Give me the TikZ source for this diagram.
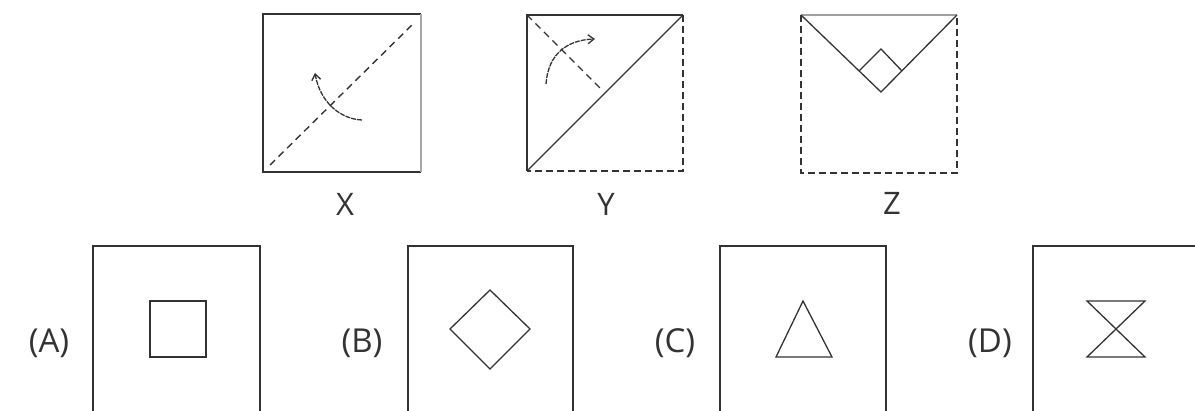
\documentclass[tikz,border=0pt]{standalone}
\usepackage{fontspec}
\setmainfont{Open Sans}
\usetikzlibrary{arrows.meta}
\definecolor{ink}{HTML}{333333}
\tikzset{
  edge/.style={draw=ink, line width=1.6pt},
  thin/.style={draw=ink, line width=1.3pt},
  dashedge/.style={draw=ink, line width=1.6pt, dash pattern=on 7pt off 4pt},
  fold/.style={draw=ink, line width=1.4pt, dash pattern=on 7pt off 5pt},
  curvearrow/.style={draw=ink, line width=1.3pt, dash pattern=on 5pt off 1pt, -{Straight Barb[length=6pt,width=9pt]}},
  letter/.style={font=\fontsize{31}{31}\selectfont, text=ink, inner sep=0pt},
  optlabel/.style={font=\fontsize{33}{33}\selectfont, text=ink, inner sep=0pt}
}
\begin{document}
\begin{tikzpicture}[x=1pt,y=-1pt]
\useasboundingbox (0,0) rectangle (1195,410);
\clip (0,0) rectangle (1195,410);
% ---------- X ----------
\draw[edge] (421,172) -- (263,172) -- (263,14) -- (421,14);
\draw[draw=gray!70, line width=1.6pt] (421,14) -- (421,172);
\coordinate (xa) at (270,165);
\coordinate (xb) at (415,22);
\draw[fold] (xa) -- (xb);
\coordinate (xs) at (362,120);
\coordinate (xe) at (315,73);
\draw[curvearrow] (xs) .. controls (340,119) and (320,102) .. (xe);
\node[letter] (lx) at (345,204) {X};
% ---------- Y ----------
\coordinate (ybl) at (527,171);
\coordinate (ytl) at (527,15);
\coordinate (ytr) at (683,15);
\coordinate (ybr) at (683,171);
\draw[edge] (ybl) -- (ytl) -- (ytr);
\draw[dashedge] (ytr) -- (ybr) -- (ybl);
\draw[thin] (ybl) -- (ytr);
\coordinate (ym) at (601,89);
\draw[fold] (ytl) -- (ym);
\coordinate (ys) at (546,84);
\coordinate (ye) at (595,39);
\draw[curvearrow] (ys) .. controls (548,55) and (566,40) .. (ye);
\node[letter] (ly) at (606,204) {Y};
% ---------- Z ----------
\coordinate (ztl) at (801,15);
\coordinate (ztr) at (957,15);
\coordinate (zbl) at (801,173);
\coordinate (zbr) at (957,173);
\draw[draw=gray!75, line width=2.4pt] (ztl) -- (ztr);
\draw[dashedge] (ztl) -- (zbl) -- (zbr) -- (ztr);
\coordinate (zv) at (881,92);
\draw[thin] (ztl) -- (zv) -- (ztr);
\draw[thin] (859,71) -- (881,49) -- (902,71);
\node[letter] (lz) at (892,203) {Z};
% ---------- options ----------
\draw[edge] (93,420) -- (93,246) -- (260,246) -- (260,420);
\draw[thin] (150,301) rectangle (206,357);
\node[optlabel] (la) at (49,343) {(A)};

\draw[edge] (408,420) -- (408,246) -- (573,246) -- (573,420);
\draw[thin] (490,290) -- (530,329) -- (490,369) -- (450,329) -- cycle;
\node[optlabel] (lb) at (362,343) {(B)};

\draw[edge] (720,420) -- (720,246) -- (886,246) -- (886,420);
\draw[thin] (803,301) -- (832,357) -- (776,357) -- cycle;
\node[optlabel] (lc) at (675,343) {(C)};

\draw[edge] (1033,420) -- (1033,246) -- (1200,246);
\draw[thin] (1087,301) -- (1145,301) -- (1087,357) -- (1145,357) -- cycle;
\node[optlabel] (ld) at (990,343) {(D)};
\end{tikzpicture}
\end{document}
